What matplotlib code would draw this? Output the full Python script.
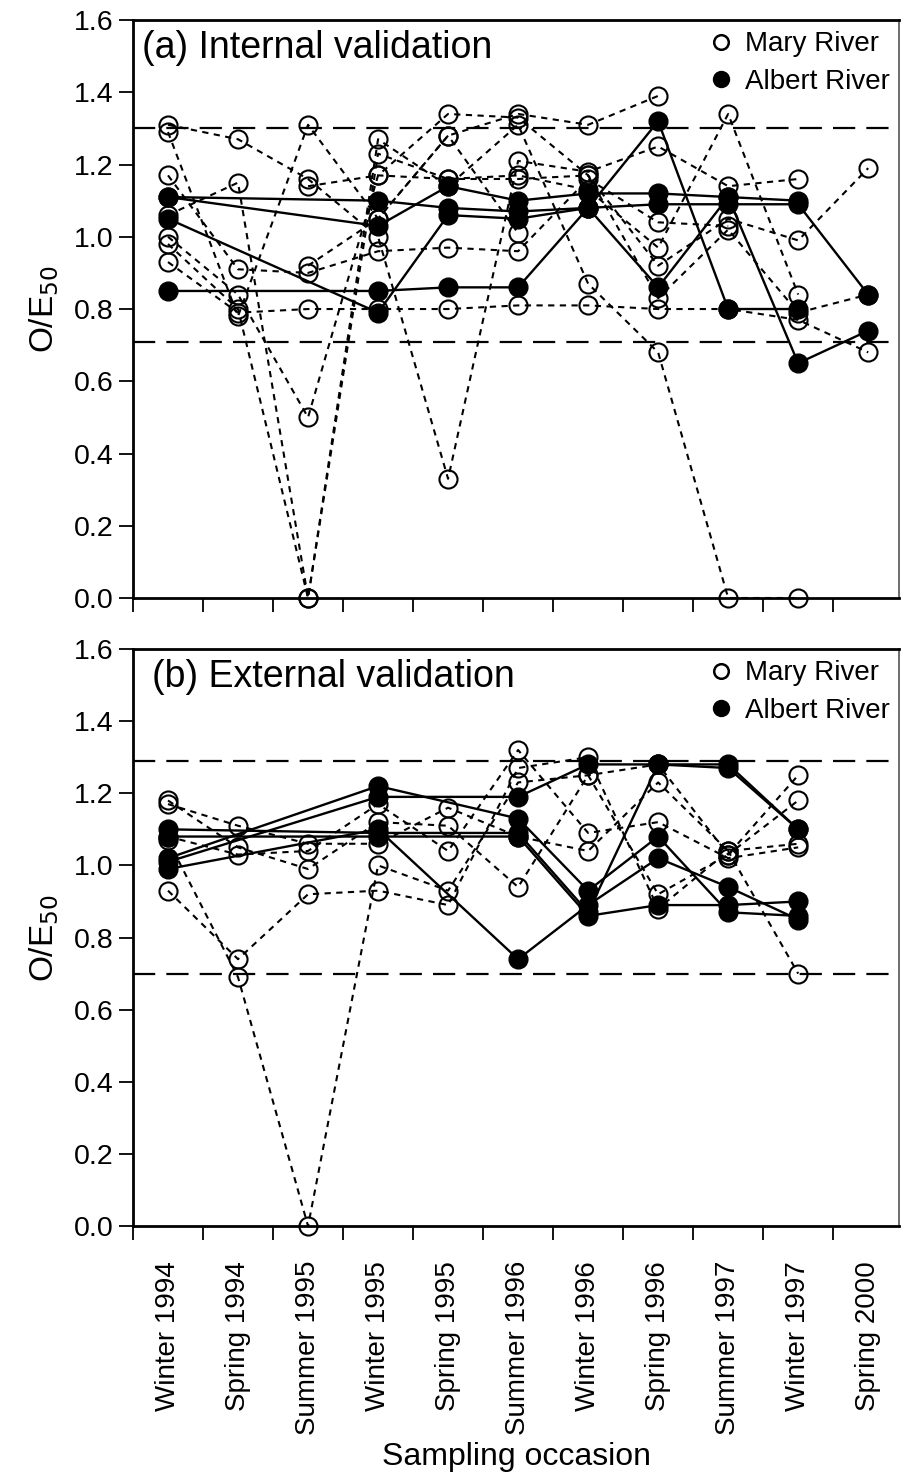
import numpy as np
import matplotlib
matplotlib.use("Agg")
import matplotlib.pyplot as plt
from matplotlib.lines import Line2D

plt.rcParams['font.family'] = ['Liberation Sans', 'DejaVu Sans']

occasions = ['Winter 1994', 'Spring 1994', 'Summer 1995', 'Winter 1995', 'Spring 1995',
             'Summer 1996', 'Winter 1996', 'Spring 1996', 'Summer 1997', 'Winter 1997',
             'Spring 2000']
nan = np.nan

# (a) internal validation, Mary River sites (open circles, dashed)
mary_a = [
    [1.31, 1.27, 1.16, 1.00, 0.33, 1.21, 1.18, 1.25, 1.14, 1.16, nan],
    [1.29, 0.78, 1.31, 1.05, 1.28, 1.34, 1.31, 1.39, nan, nan, nan],
    [1.06, 1.15, 0.00, 1.23, 1.16, 1.17, 1.13, 0.97, 1.34, 0.84, nan],
    [0.93, 0.79, 0.80, 0.80, 0.80, 0.81, 0.81, 0.80, 0.80, 0.77, 0.68],
    [1.00, 0.84, 0.50, 1.17, 1.34, 1.33, 1.17, 0.92, 1.05, 0.99, 1.19],
    [0.98, 0.80, 0.00, 1.27, 1.14, 1.31, 0.87, 0.68, 0.00, 0.00, nan],
    [1.17, 0.91, 0.90, 0.96, 0.97, 0.96, 1.16, 1.04, 1.03, nan, nan],
    [nan, nan, 1.14, 1.17, 1.16, 1.16, 1.17, 0.83, 1.02, 0.79, 0.84],
    [nan, nan, 0.92, 1.05, 1.28, 1.01, nan, nan, nan, nan, nan],
]
# (a) internal validation, Albert River sites (filled circles, solid)
albert_a = [
    [1.11, nan, nan, 1.10, 1.08, 1.07, 1.08, 1.09, 1.09, 1.09, 0.84],
    [1.11, nan, nan, 1.03, 1.14, 1.10, 1.12, 1.12, 1.11, 1.10, nan],
    [1.05, nan, nan, 0.79, 1.06, 1.05, 1.08, 1.32, 0.80, 0.80, nan],
    [0.85, nan, nan, 0.85, 0.86, 0.86, 1.08, 0.86, 1.11, 0.65, 0.74],
]

# (b) external validation
mary_b = [
    [1.18, 1.05, 0.99, 1.12, 1.11, 0.94, 1.25, 0.92, 1.03, 1.25, nan],
    [1.17, 1.11, 1.06, 1.06, 1.16, 1.08, 1.04, 1.23, 1.04, 1.06, nan],
    [1.08, 1.03, 1.04, 1.17, 1.04, 1.32, 1.09, 1.12, 1.02, 1.05, nan],
    [0.93, 0.74, 0.92, 0.93, 0.89, 1.27, 1.30, 0.88, 1.04, 0.70, nan],
    [1.07, 0.69, 0.00, 1.00, 0.93, 1.23, 1.25, 1.28, 1.03, 1.18, nan],
]
albert_b = [
    [1.10, nan, nan, 1.09, nan, 1.09, 0.87, 1.28, 1.27, 1.10, nan],
    [1.08, nan, nan, 1.08, nan, 1.08, 0.86, 0.89, 0.89, 0.90, nan],
    [1.02, nan, nan, 1.22, nan, 1.13, 0.93, 1.08, 0.87, 0.86, nan],
    [1.01, nan, nan, 1.19, nan, 1.19, 1.28, 1.28, 1.28, 1.10, nan],
    [0.99, nan, nan, 1.10, nan, 0.74, 0.89, 1.02, 0.94, 0.85, nan],
]

limits_a = [1.30, 0.71]
limits_b = [1.29, 0.70]
titles = ['(a) Internal validation', '(b) External validation']

fig = plt.figure(figsize=(9.01, 14.74), dpi=100)
ax_a = fig.add_axes([0.1476, 0.5943, 0.8502, 0.3921])
ax_b = fig.add_axes([0.1476, 0.1682, 0.8502, 0.3915])

x = np.arange(len(occasions)) + 0.5


def draw_panel(ax, mary, albert, limits, title, title_xy):
    for lim in limits:
        ax.axhline(lim, color='black', lw=1.6, dashes=(10, 5), zorder=1)
    for s in mary:
        y = np.array(s)
        m = ~np.isnan(y)
        ax.plot(x[m], y[m], color='black', lw=1.5, dashes=(3, 2.6),
                marker='o', ms=13, mfc='none', mec='black', mew=1.5,
                clip_on=False, zorder=2)
    for s in albert:
        y = np.array(s)
        m = ~np.isnan(y)
        ax.plot(x[m], y[m], color='black', lw=1.7, ls='-',
                marker='o', ms=13.5, mfc='black', mec='black',
                clip_on=False, zorder=3)

    ax.set_xlim(0, 10.94)
    ax.set_ylim(0, 1.6)
    ax.set_yticks(np.arange(0, 1.61, 0.2))
    ax.set_yticklabels([f'{v:.1f}' for v in np.arange(0, 1.61, 0.2)])
    ax.set_xticks(np.arange(0, 11))
    ax.set_xticklabels([])
    ax.tick_params(axis='both', which='major', direction='out', length=10,
                   width=1.3, labelsize=20.5, pad=4)
    for sp in ['left', 'bottom', 'top']:
        ax.spines[sp].set_linewidth(2)
    ax.spines['right'].set_linewidth(1.2)
    ax.spines['right'].set_color('#555555')
    ax.set_ylabel('O/E$_{50}$', fontsize=24, labelpad=9)

    ax.text(title_xy[0], title_xy[1], title, transform=ax.transAxes,
            fontsize=27, va='top', ha='left')

    handles = [
        Line2D([], [], ls='none', marker='o', ms=10.5, mfc='none', mec='black', mew=1.8),
        Line2D([], [], ls='none', marker='o', ms=11.5, mfc='black', mec='black'),
    ]
    ax.legend(handles, ['Mary River', 'Albert River'], loc='upper right',
              bbox_to_anchor=(0.995, 0.99), frameon=False, fontsize=20,
              handlelength=0.8, handletextpad=0.45, labelspacing=0.42,
              borderpad=0.2, borderaxespad=0)


draw_panel(ax_a, mary_a, albert_a, limits_a, titles[0], (0.012, 0.982))
draw_panel(ax_b, mary_b, albert_b, limits_b, titles[1], (0.025, 0.982))

ax_b.set_xticks(x, minor=True)
ax_b.set_xticklabels(occasions, minor=True, rotation=90, fontsize=20)
ax_b.tick_params(axis='x', which='minor', length=0, pad=25)
ax_b.set_xlabel('Sampling occasion', fontsize=23, labelpad=5)

fig.savefig('out.png', dpi=100)
